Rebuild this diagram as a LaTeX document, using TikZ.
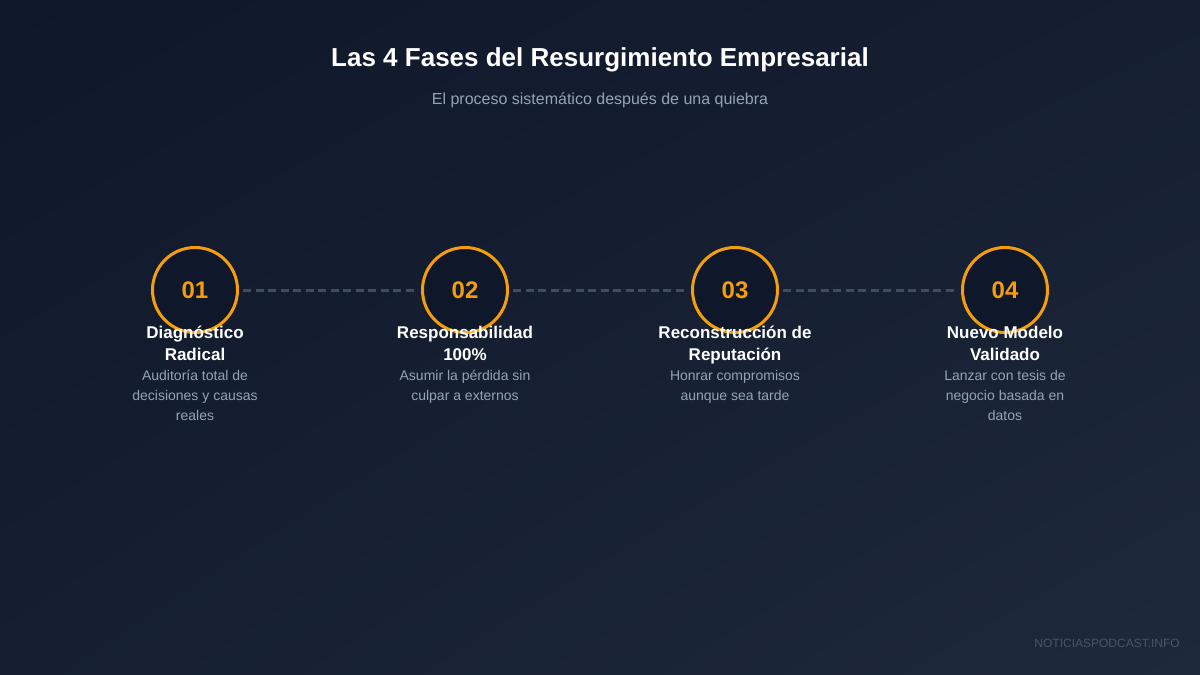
\documentclass[tikz,border=0pt]{standalone}
\usepackage{fontspec}
\setmainfont{Liberation Sans}
\usetikzlibrary{shadings}
\definecolor{bgtop}{HTML}{0F172A}
\definecolor{bgmid}{HTML}{161F32}
\definecolor{bgbot}{HTML}{1E293B}
\definecolor{accent}{HTML}{F59E0B}
\definecolor{muted}{HTML}{94A3B8}
\definecolor{linkgray}{HTML}{3F4C61}
\definecolor{siteclr}{HTML}{475569}

\begin{document}
\begin{tikzpicture}[
  x=1pt,y=-1pt,
  phase/.style={circle,draw=accent,line width=3pt,fill=bgtop,minimum size=85pt,inner sep=0pt,
    text=accent,font=\fontsize{24}{28}\selectfont\bfseries},
  ptitle/.style={anchor=north,inner sep=0pt,align=center,text=white,
    font=\fontsize{17}{21.5}\selectfont\bfseries},
  pdesc/.style={anchor=north,inner sep=0pt,align=center,text=muted,
    font=\fontsize{14}{20}\selectfont},
  link/.style={draw=linkgray,line width=3pt,dash pattern=on 8pt off 4.5pt,shorten <=4pt,shorten >=4pt},
]

\shade [upper left=bgtop,upper right=bgmid,lower left=bgmid,lower right=bgbot] (0,0) rectangle (1200,675);
\useasboundingbox (0,0) rectangle (1200,675);

\node (title) [anchor=base,text=white,font=\fontsize{26}{30}\selectfont\bfseries] at (600,66.3) {Las 4 Fases del Resurgimiento Empresarial};
\node (subtitle) [anchor=base,text=muted,font=\fontsize{16}{19}\selectfont] at (600,104.7) {El proceso sistemático después de una quiebra};

\node (p1) [phase] at (195,290) {01};
\node (p2) [phase] at (465,290) {02};
\node (p3) [phase] at (735,290) {03};
\node (p4) [phase] at (1005,290) {04};

\draw [link] (p1) -- (p2);
\draw [link] (p2) -- (p3);
\draw [link] (p3) -- (p4);

\node (t1) [ptitle] at (195,326) {Diagnóstico\\Radical};
\node (d1) [pdesc] at (195,370) {Auditoría total de\\decisiones y causas\\reales};

\node (t2) [ptitle] at (465,326) {Responsabilidad\\100\%};
\node (d2) [pdesc] at (465,370) {Asumir la pérdida sin\\culpar a externos};

\node (t3) [ptitle] at (735,326) {Reconstrucción de\\Reputación};
\node (d3) [pdesc] at (735,370) {Honrar compromisos\\aunque sea tarde};

\node (t4) [ptitle] at (1005,326) {Nuevo Modelo\\Validado};
\node (d4) [pdesc] at (1005,370) {Lanzar con tesis de\\negocio basada en\\datos};

\node (site) [anchor=base east,inner sep=0pt,text=siteclr,font=\fontsize{12}{14}\selectfont] at (1180,647.3) {NOTICIASPODCAST.INFO};

\end{tikzpicture}
\end{document}
